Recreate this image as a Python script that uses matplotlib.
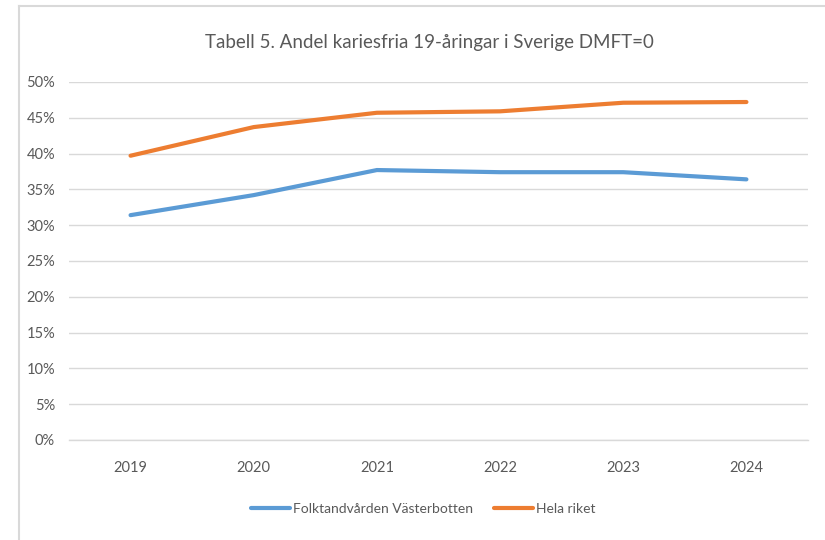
import matplotlib.pyplot as plt
from matplotlib.lines import Line2D
from matplotlib.ticker import PercentFormatter

years = ['2019', '2020', '2021', '2022', '2023', '2024']
vasterbotten = [31.4, 34.2, 37.7, 37.4, 37.4, 36.4]
hela_riket = [39.7, 43.7, 45.7, 45.9, 47.1, 47.2]

plt.rcParams['font.family'] = ['Lato', 'DejaVu Sans']
grey = '#595959'

fig = plt.figure(figsize=(8.25, 5.4), dpi=100)
ax = fig.add_axes([0.0836, 0.1852, 0.8958, 0.663])

x = range(len(years))
ax.plot(x, vasterbotten, color='#5B9BD5', lw=3, solid_capstyle='round', label='Folktandvården Västerbotten')
ax.plot(x, hela_riket, color='#ED7D31', lw=3, solid_capstyle='round', label='Hela riket')

ax.set_xlim(-0.5, len(years) - 0.5)
ax.set_ylim(0, 50)
ax.set_yticks(range(0, 51, 5))
ax.yaxis.set_major_formatter(PercentFormatter(decimals=0))
ax.set_xticks(list(x))
ax.set_xticklabels(years)
ax.grid(axis='y', color='#D9D9D9', lw=1)
ax.axhline(0, color='#D9D9D9', lw=1, clip_on=False, zorder=0)
ax.set_axisbelow(True)
for s in ax.spines.values():
    s.set_visible(False)
ax.tick_params(length=0, colors=grey, labelsize=10.5)
ax.tick_params(axis='x', pad=15)
ax.tick_params(axis='y', pad=10)

fig.text(0.521, 0.922, 'Tabell 5. Andel kariesfria 19-åringar i Sverige DMFT=0',
         ha='center', va='center', fontsize=13.5, color=grey)

fig.legend(loc='center', bbox_to_anchor=(0.513, 0.057), ncol=2, frameon=False,
           fontsize=10, labelcolor=grey, handlelength=2.8, handletextpad=0.2,
           columnspacing=1.5)

# chart frame (left and top edges visible)
fig.add_artist(Line2D([0.023, 0.023], [0, 0.988], color='#D9D9D9', lw=1.5, transform=fig.transFigure))
fig.add_artist(Line2D([0.023, 1.0], [0.988, 0.988], color='#D9D9D9', lw=1.5, transform=fig.transFigure))

plt.savefig('out.png')
